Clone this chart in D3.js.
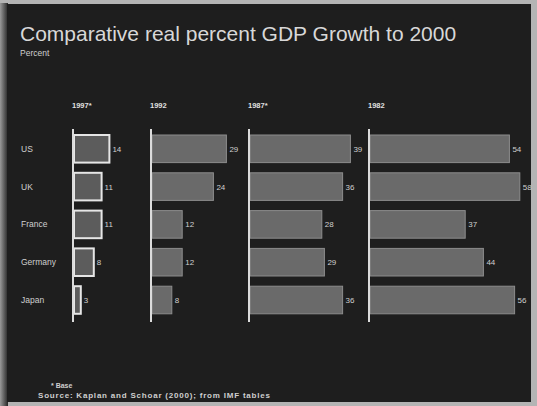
<!DOCTYPE html>
<html>
<head>
<meta charset="utf-8">
<script src="https://cdn.jsdelivr.net/npm/d3@7"></script>
<style>
  html, body { margin: 0; padding: 0; background: #b9b9b9; }
  svg { display: block; font-family: "Liberation Sans", Arial, sans-serif; }
</style>
</head>
<body>
<svg id="chart" width="537" height="406"></svg>
<script>
// Real GDP growth to 2000 (percent), by starting year
const countries = ["US", "UK", "France", "Germany", "Japan"];
const periods = ["1997*", "1992", "1987*", "1982"];
const growthFrom1997 = [14, 11, 11, 8, 3];
const growthFrom1992 = [29, 24, 12, 12, 8];
const growthFrom1987 = [39, 36, 28, 29, 36];
const growthFrom1982 = [54, 58, 37, 44, 56];
const seriesList = [growthFrom1997, growthFrom1992, growthFrom1987, growthFrom1982];

const W = 537, H = 406;
const svg = d3.select("#chart");

// panel background with a light frame on the left and top edges
svg.append("rect").attr("x", 0).attr("y", 0).attr("width", W).attr("height", H).attr("fill", "#b4b4b4");
const grad = svg.append("defs").append("linearGradient").attr("id", "edge").attr("x1", 0).attr("x2", 1);
grad.append("stop").attr("offset", 0).attr("stop-color", "#9a9a9a");
grad.append("stop").attr("offset", 1).attr("stop-color", "#262626");
svg.append("rect").attr("x", 0).attr("y", 3).attr("width", 8).attr("height", H - 3).attr("fill", "url(#edge)");
svg.append("rect").attr("x", 7).attr("y", 4).attr("width", 524).attr("height", 398).attr("fill", "#1e1e1e");

// title block
svg.append("text").attr("x", 20).attr("y", 41)
  .attr("fill", "#d8d8d8").attr("font-size", 21)
  .text("Comparative real percent GDP Growth to 2000");
svg.append("text").attr("x", 20).attr("y", 56)
  .attr("fill", "#cfcfcf").attr("font-size", 8.5)
  .text("Percent");

// shared scales
const y = d3.scaleBand().domain(countries).range([124.8, 324]).padding(0.27);
const pxPerPoint = 2.6;
const panelX = [73, 151, 249, 369];

// country labels
svg.append("g").selectAll("text").data(countries).join("text")
  .attr("x", 21)
  .attr("y", d => y(d) + y.bandwidth() / 2 + 3)
  .attr("fill", "#cfcfcf").attr("font-size", 8.5)
  .text(d => d);

seriesList.forEach((values, i) => {
  const x0 = panelX[i];
  const maxV = d3.max(values);
  const x = d3.scaleLinear().domain([0, maxV]).range([x0, x0 + maxV * pxPerPoint]);
  const g = svg.append("g");
  const first = i === 0;

  g.append("text").attr("x", x0 - 1).attr("y", 108)
    .attr("fill", "#e0e0e0").attr("font-size", 7.5).attr("font-weight", "bold")
    .text(periods[i]);

  g.selectAll("rect.bar").data(countries).join("rect")
    .attr("class", "bar")
    .attr("x", x(0) + 1)
    .attr("y", d => y(d))
    .attr("width", (d, j) => Math.max(0, x(values[j]) - x(0) - 1))
    .attr("height", y.bandwidth())
    .attr("fill", first ? "#5c5c5c" : "#6a6a6a")
    .attr("stroke", first ? "#e6e6e6" : "#8c8c8c")
    .attr("stroke-width", first ? 2 : 1);

  // axis baseline
  g.append("line")
    .attr("x1", x(0)).attr("x2", x(0))
    .attr("y1", 129).attr("y2", 322)
    .attr("stroke", "#dcdcdc").attr("stroke-width", 2);

  g.selectAll("text.val").data(countries).join("text")
    .attr("class", "val")
    .attr("x", (d, j) => x(values[j]) + 3)
    .attr("y", d => y(d) + y.bandwidth() / 2 + 3)
    .attr("fill", "#cfcfcf").attr("font-size", 8)
    .text((d, j) => values[j]);
});

// footnotes
svg.append("text").attr("x", 51).attr("y", 388)
  .attr("fill", "#cfcfcf").attr("font-size", 7).attr("font-weight", "bold")
  .text("* Base");
svg.append("text").attr("x", 38).attr("y", 398)
  .attr("fill", "#cfcfcf").attr("font-size", 8).attr("font-weight", "bold")
  .attr("textLength", 232).attr("lengthAdjust", "spacing")
  .text("Source:  Kaplan and Schoar (2000); from IMF tables");
</script>
</body>
</html>
